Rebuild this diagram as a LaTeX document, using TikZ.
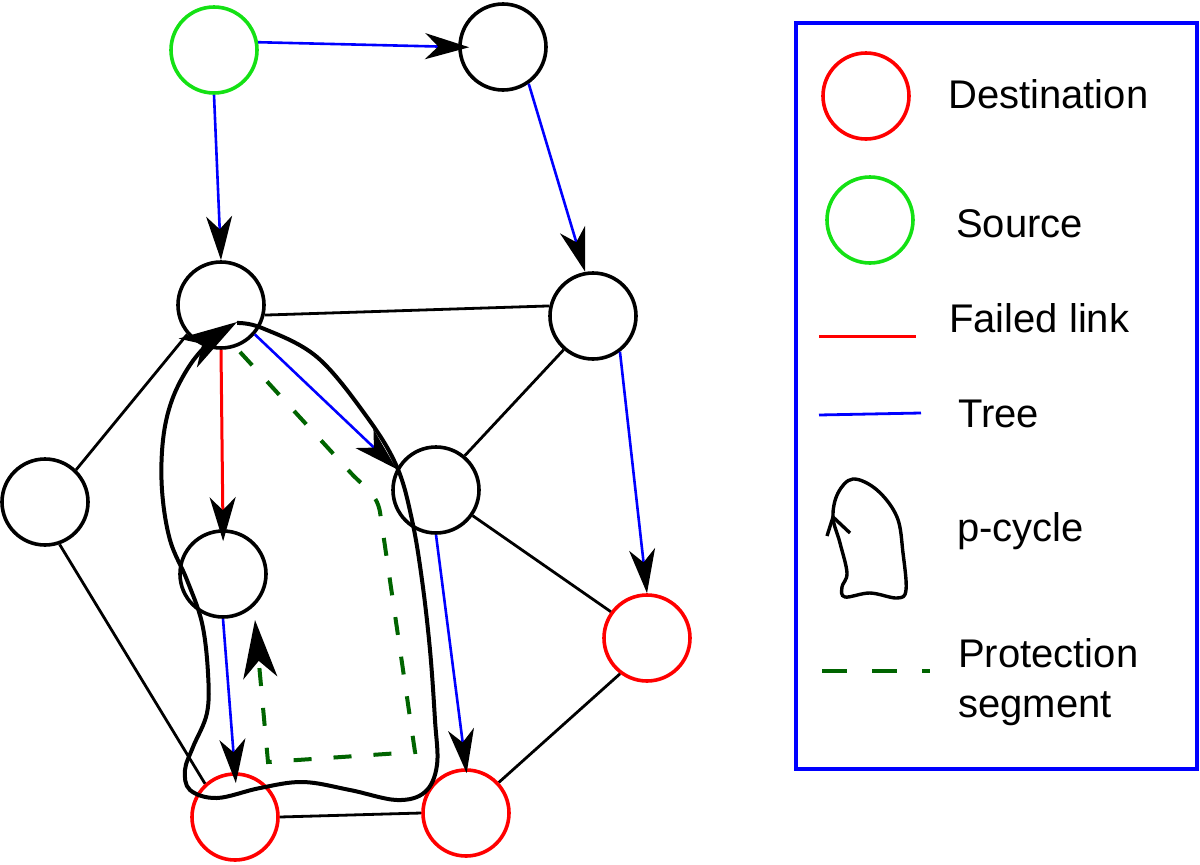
\documentclass[tikz,border=0pt]{standalone}
\usepackage{fontspec}
\setmainfont{Liberation Sans}
\usetikzlibrary{arrows.meta}

\definecolor{srcgreen}{RGB}{20,225,20}
\definecolor{protgreen}{RGB}{0,100,0}

\begin{document}
\begin{tikzpicture}[
    x=1pt, y=-1pt,
    router/.style={
        circle, draw=black, line width=3.6pt,
        minimum size=86pt, inner sep=0pt
    },
    dest/.style={router, draw=red},
    source/.style={router, draw=srcgreen},
    edgeline/.style={line width=2.8pt, black},
    treelink/.style={line width=2.6pt, blue,
        -{Stealth[color=black, length=44pt, width=26pt, inset=13pt]}},
    failedlink/.style={line width=3pt, red,
        -{Stealth[color=black, length=44pt, width=26pt, inset=13pt]}},
    pcycle/.style={line width=4pt, black,
        -{Stealth[length=58pt, width=34pt, inset=17pt]}},
    protseg/.style={line width=4pt, protgreen, dash pattern=on 18pt off 22pt,
        -{Stealth[color=black, length=58pt, width=34pt, inset=17pt]}},
    legendtext/.style={font=\fontsize{40}{50}\selectfont, anchor=base west, inner sep=0pt, align=left}
]
    \useasboundingbox (0,0) rectangle (1200,865);
    % Nodes
    \node (src) [source] at (214,50) {};
    \node (top) [router] at (503,47) {};
    \node (hub) [router] at (221,305) {};
    \node (right) [router] at (593,316) {};
    \node (left) [router] at (45,502) {};
    \node (mid) [router] at (436,490) {};
    \node (low) [router] at (223,574) {};
    \node (dst1) [dest] at (647,638) {};
    \node (dst2) [dest] at (235,817) {};
    \node (dst3) [dest] at (466,813) {};
    % Plain links
    \draw [edgeline] (hub.-13) -- (right.167);
    \draw [edgeline] (left.46) -- (hub.221);
    \draw [edgeline] (left.-71) -- (dst2.132);
    \draw [edgeline] (mid.50) -- (right.-131);
    \draw [edgeline] (mid.-35) -- (dst1.144);
    \draw [edgeline] (dst1.233) -- (dst3.43);
    \draw [edgeline] (dst2.east) -- (dst3.west);
    % Tree
    \draw [treelink, shorten >=-11pt] (src.10) -- (top.west);
    \draw [treelink] (src.south) -- (hub.north);
    \draw [treelink] (top.-55) -- (right.100);
    \draw [treelink] (right.-53) -- (dst1.north);
    \draw [treelink] (hub.-41) -- (mid.152);
    \draw [treelink, shorten >=-11pt] (low.south) -- (dst2.north);
    \draw [treelink, shorten >=-5pt] (mid.south) -- (dst3.north);
    % Failed link
    \draw [failedlink, shorten >=-12pt] (hub.south) -- (low.north);
    % Protection segment
    \draw [protseg] (240,352) -- (350,472) to[out=-48,in=100] (380,512)
        -- (415,752) -- (268,762) -- (255,620);
    % p-cycle
    \draw [pcycle] plot[smooth, tension=0.6] coordinates {
        (237,323) (262,328) (317,357) (367,417) (397,467) (412,520)
        (422,580) (430,650) (435,720) (437,765) (425,792) (397,800)
        (350,790) (303,782) (260,788) (217,798) (190,790) (185,770)
        (193,747) (207,713) (208,673) (202,623) (187,580) (170,540)
        (162,490) (163,440) (172,400) (190,365) (212,340) (237,322)};
    % Legend
    \draw [blue, line width=3.5pt] (796,23) rectangle (1197,769);
    \node (legdest) [dest] at (866,96) {};
    \node [legendtext] at (948,108) {Destination};
    \node (legsrc) [source] at (870,220) {};
    \node [legendtext] at (956,237) {Source};
    \draw [line width=3pt, red] (819,336) -- (916,336);
    \node [legendtext] at (949,332) {Failed link};
    \draw [line width=2.8pt, blue] (819,415) -- (921,413);
    \node [legendtext] at (958,427) {Tree};
    \draw [line width=3.4pt] plot[smooth cycle, tension=0.6] coordinates {
        (853,479) (877,490) (897,517) (903,553) (906,590) (897,598)
        (870,593) (845,597) (842,587) (847,573) (840,543) (833,517) (838,493)};
    \draw [line width=3.4pt] (827,536) -- (833,517) -- (850,533);
    \node [legendtext] at (957,541) {p-cycle};
    \draw [line width=4pt, protgreen, dash pattern=on 25pt off 25pt] (822,671) -- (930,671);
    \node [legendtext] at (958,717) {Protection\\segment};
\end{tikzpicture}
\end{document}
